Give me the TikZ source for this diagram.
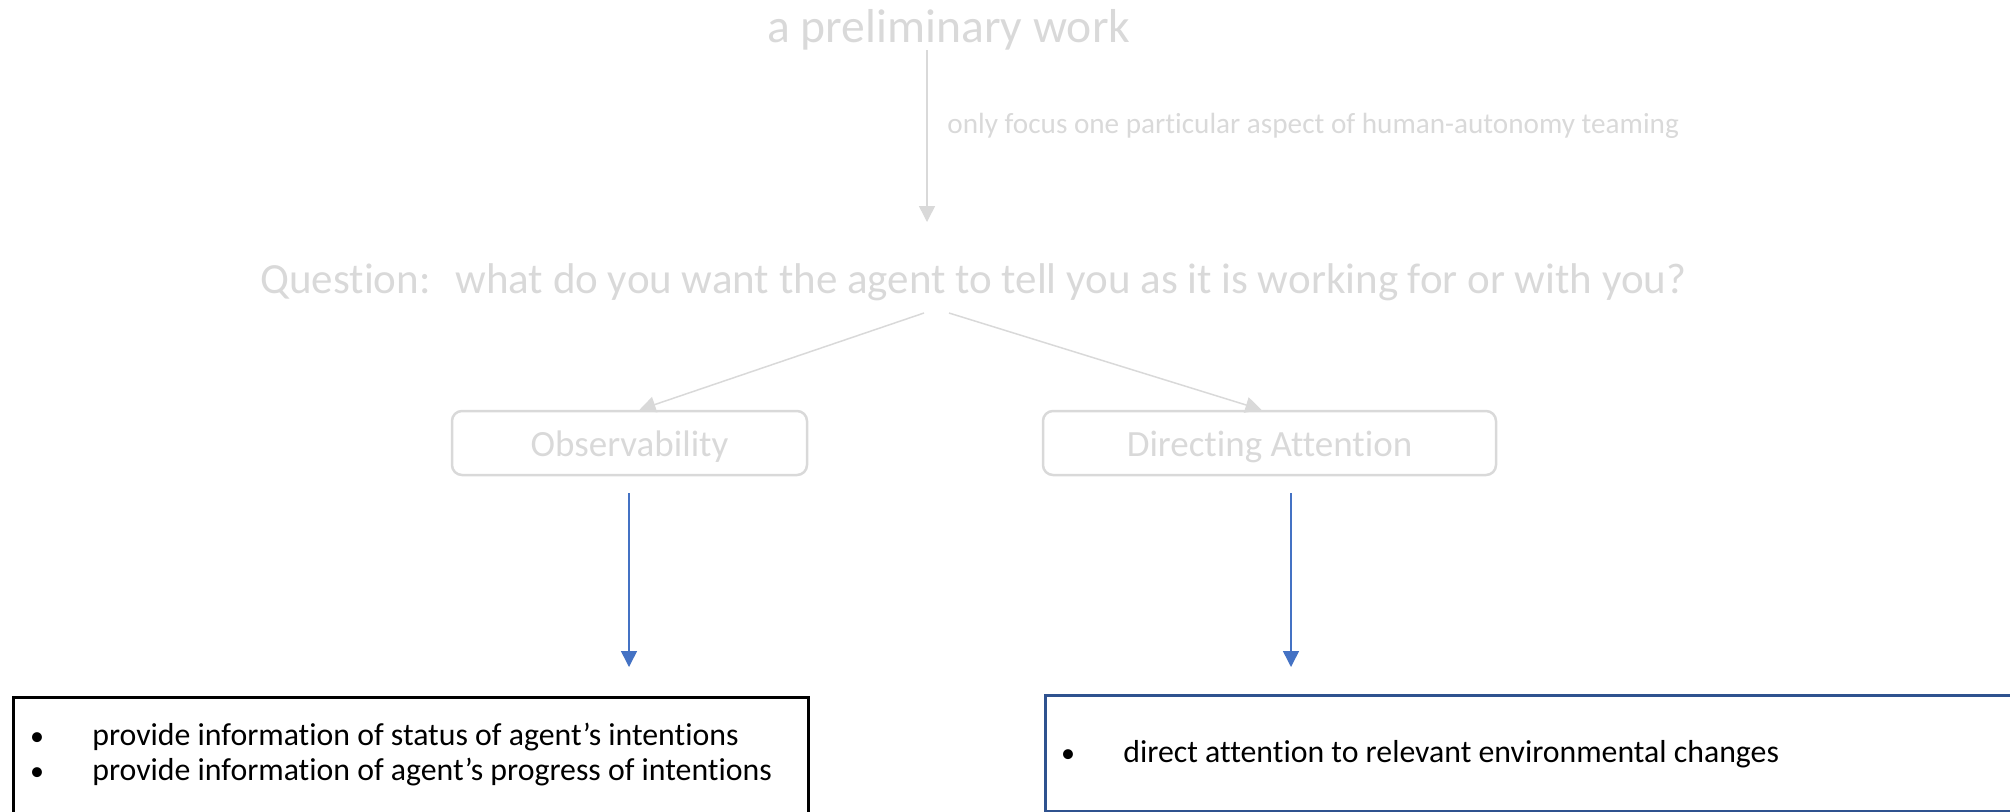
\documentclass[tikz,border=0pt]{standalone}
\usepackage{fontspec}
\setmainfont{Carlito}[Ligatures={NoCommon,NoContextual,NoRare},Contextuals=NoAlternate]
\usetikzlibrary{arrows.meta,calc}
\definecolor{fadegray}{RGB}{217,217,217}
\definecolor{arrowblue}{RGB}{68,114,196}
\definecolor{panelblue}{RGB}{47,82,143}

\begin{document}
\begin{tikzpicture}[x=0.5pt,y=-0.5pt,
  faded/.style={text=fadegray, inner sep=0pt, anchor=base west},
  titletext/.style={faded, font=\fontsize{23.8pt}{28pt}\selectfont},
  questiontext/.style={faded, font=\fontsize{21.5pt}{26pt}\selectfont},
  notetext/.style={faded, font=\fontsize{14.6pt}{17pt}\selectfont},
  grayarrow/.style={draw=fadegray, line width=0.75pt, -{Triangle[width=8pt,length=8pt]}},
  bluearrow/.style={draw=arrowblue, line width=0.75pt, -{Triangle[width=8pt,length=8pt]}},
  topicbox/.style={draw=fadegray, line width=1.25pt, rounded corners=5pt,
    minimum height=32pt, inner sep=0pt, text=fadegray,
    font=\fontsize{18.5pt}{22pt}\selectfont, text height=15pt, text depth=1.5pt},
  panel/.style={anchor=north west, inner sep=0pt, fill=white},
  bulletmark/.style={inner sep=0pt, anchor=base, font=\fontsize{14pt}{19pt}\selectfont},
  bullettext/.style={inner sep=0pt, anchor=base west, font=\fontsize{15.9pt}{19pt}\selectfont},
]
\useasboundingbox (0,0) rectangle (2010,811);
\clip (0,0) rectangle (2010,811);

% headline and the narrowing step
\node[titletext] (title) at (767,42) {a preliminary work};
\coordinate (focusend) at (927,222);
\draw[grayarrow] (title.south -| focusend) -- (focusend);
\node[notetext] (focus) at (947,133) {only focus one particular aspect of human-autonomy teaming};

% the guiding question
\node[questiontext] (qlabel) at (260,293) {Question:};
\node[questiontext] (qtext) at (455,293) {what do you want the agent to tell you as it is working for or with you?};
\coordinate (qleft) at (924,313);
\coordinate (qright) at (949,313);

% the two aspects
\node[topicbox, minimum width=177.5pt] (obs) at (629.5,443) {Observability};
\node[topicbox, minimum width=226.5pt] (dir) at (1269.5,443) {Directing Attention};
\draw[grayarrow] (qleft) -- ([xshift=5pt]obs.north);
\draw[grayarrow] (qright) -- ([xshift=-4pt]dir.north);

% arrows down to the requirement panels
\coordinate (obsend) at (629,667);
\coordinate (dirend) at (1291,667);
\draw[bluearrow] ($(obs.south -| obsend)+(0,17)$) -- (obsend);
\draw[bluearrow] ($(dir.south -| dirend)+(0,17)$) -- (dirend);

% requirement panels
\node[panel, draw=black, line width=1.35pt, minimum width=397.5pt, minimum height=62pt] (obspanel) at (12,696) {};
\node[panel, draw=panelblue, line width=1.25pt, minimum width=500pt, minimum height=58pt] (dirpanel) at (1044,694) {};

\node[bulletmark] (ob1) at (37,745) {•};
\node[bullettext] (ot1) at (92,745) {provide information of status of agent’s intentions};
\node[bulletmark] (ob2) at (37,780) {•};
\node[bullettext] (ot2) at (92,780) {provide information of agent’s progress of intentions};

\node[bulletmark] (db1) at (1068,762) {•};
\node[bullettext] (dt1) at (1123,762) {direct attention to relevant environmental changes};
\end{tikzpicture}
\end{document}
